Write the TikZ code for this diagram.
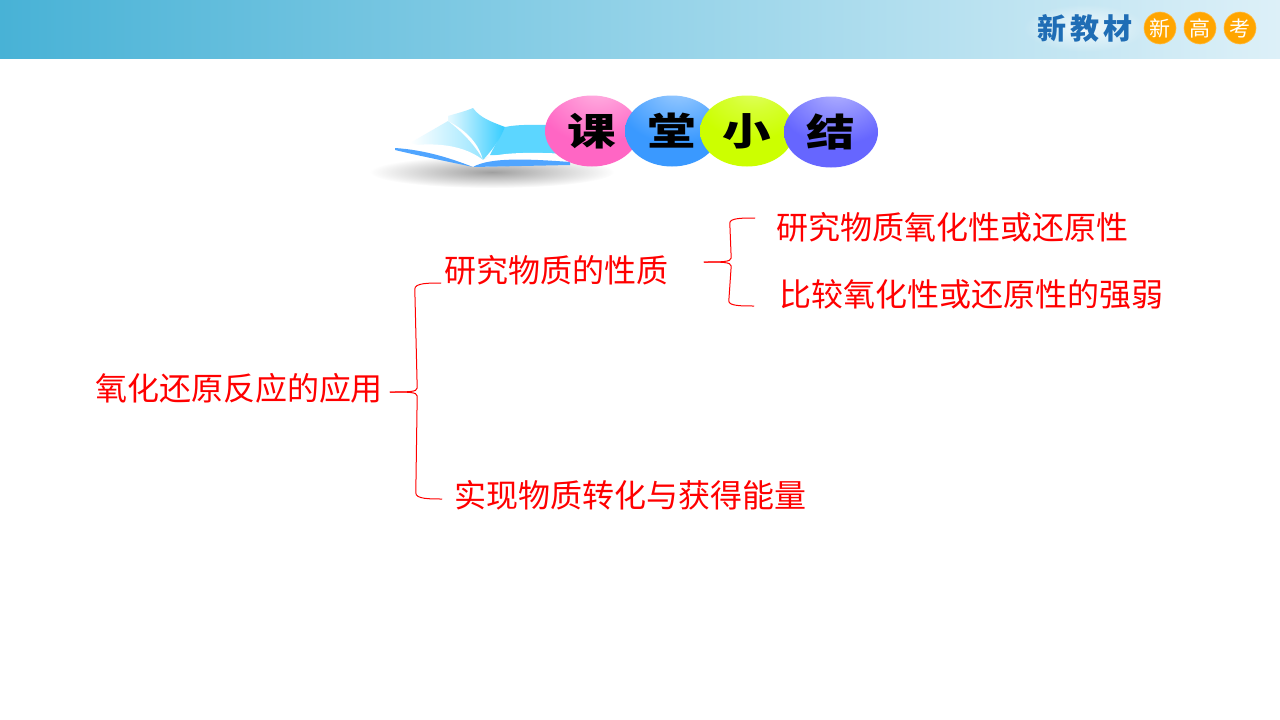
\documentclass[tikz,border=0pt]{standalone}
\usepackage{fontspec}
\usepackage{graphicx}
\setmainfont{Liberation Sans}
\newfontfamily\cjk{Noto Sans CJK SC}
\usetikzlibrary{shapes.geometric,calc,fadings}
\definecolor{bandL}{HTML}{48B2D6}
\definecolor{bandM}{HTML}{93D2E8}
\definecolor{bandR}{HTML}{DDF0F8}
\definecolor{logoBlue}{HTML}{1F6DB5}
\definecolor{logoOr}{HTML}{FFA500}
\definecolor{pinkB}{HTML}{FF66C4}
\definecolor{blueB}{HTML}{3A99FF}
\definecolor{greenB}{HTML}{CCFF00}
\definecolor{purpB}{HTML}{6666FF}
\definecolor{pageB}{HTML}{33CCFF}
\tikzfading[name=softedge,inner color=transparent!25,outer color=transparent!100]
\pgfdeclareradialshading{pinkball}{\pgfpoint{4bp}{34bp}}{color(0bp)=(pinkB!45!white);color(14bp)=(pinkB!70!white);color(32bp)=(pinkB);color(100bp)=(pinkB)}
\pgfdeclareradialshading{blueball}{\pgfpoint{4bp}{34bp}}{color(0bp)=(blueB!45!white);color(14bp)=(blueB!70!white);color(32bp)=(blueB);color(100bp)=(blueB)}
\pgfdeclareradialshading{greenball}{\pgfpoint{4bp}{34bp}}{color(0bp)=(greenB!55!white);color(14bp)=(greenB!80!white);color(30bp)=(greenB);color(100bp)=(greenB)}
\pgfdeclareradialshading{purpball}{\pgfpoint{4bp}{34bp}}{color(0bp)=(purpB!45!white);color(14bp)=(purpB!70!white);color(32bp)=(purpB);color(100bp)=(purpB)}
\newcommand{\widechar}[1]{\scalebox{1.28}[1]{#1}}
\tikzset{
  x=1pt,y=-1pt,
  label text/.style={inner sep=0pt,text=red,font=\cjk\fontsize{32}{32}\selectfont},
  ball/.style={ellipse,inner sep=0pt,minimum width=94pt,minimum height=71pt,text=black,font=\cjk\bfseries\fontsize{38}{38}\selectfont},
  medal/.style={circle,fill=logoOr,draw=logoOr!75!white,line width=.6pt,minimum size=32pt,inner sep=0pt,text=white,font=\cjk\fontsize{21}{21}\selectfont},
  brace line/.style={draw=red,line width=1pt,line cap=round},
}
\begin{document}
\begin{tikzpicture}
\useasboundingbox (0,0) rectangle (1280,720);
\fill[white] (0,0) rectangle (1280,720);
% header band
\shade[left color=bandL,right color=bandM] (0,0) rectangle (640,58);
\shade[left color=bandM,right color=bandR] (640,0) rectangle (1280,58);
% logo
\fill[white,path fading=softedge] (1085,28) ellipse [x radius=62,y radius=24];
\node[inner sep=0pt,text=logoBlue,font=\cjk\bfseries\fontsize{29}{29}\selectfont] (logo) at (1085,28) {新\hspace{4pt}教\hspace{4pt}材};
\node[medal] (m1) at (1160,28) {新};
\node[medal] (m2) at (1200,28) {高};
\node[medal] (m3) at (1240,28) {考};
% book shadow
\fill[black!50,path fading=softedge] (492,172) ellipse [x radius=122,y radius=16];
% book
\shade[left color=white,right color=pageB!50!white]
  (410,143) -- (448,121) .. controls (462,132) and (475,145) .. (483,160) -- cycle;
\fill[pageB!80!white] (505,127) .. controls (520,124) and (535,125) .. (560,125) -- (570,155) -- (490,155) .. controls (495,145) and (500,137) .. (505,127) -- cycle;
\shade[left color=pageB!12!white,right color=pageB]
  (448,116) .. controls (458,113) and (466,111) .. (473,108) .. controls (480,118) and (492,122) .. (505,127)
  .. controls (500,140) and (492,150) .. (483,160)
  .. controls (478,140) and (462,128) .. (448,121) -- cycle;
\fill[white] (395,148) .. controls (425,142) and (460,142) .. (483,160) .. controls (495,152) and (530,152) .. (570,154) -- (570,164) -- (473,167) .. controls (450,158) and (420,152) .. (395,148) -- cycle;
\fill[pageB!70!blue!80!white] (395,148) .. controls (425,150) and (450,158) .. (473,167) .. controls (450,162) and (420,156) .. (395,150) -- cycle;
\fill[pageB!70!blue!80!white] (473,167) .. controls (490,157) and (530,159) .. (570,162) -- (570,165) -- cycle;
% title balls
\node[ball,shading=pinkball] (b1) at (592,131) {\widechar{课}};
\node[ball,shading=blueball] (b2) at (672,131) {\widechar{堂}};
\node[ball,shading=greenball] (b3) at (747,131) {\widechar{小}};
\node[ball,shading=purpball] (b4) at (831,132) {\widechar{结}};
% text
\node[label text] (root) at (239,388) {氧化还原反应的应用};
\node[label text] (a) at (556,270) {研究物质的性质};
\node[label text] (b) at (630,495) {实现物质转化与获得能量};
\node[label text] (a1) at (952,227) {研究物质氧化性或还原性};
\node[label text] (a2) at (971,294) {比较氧化性或还原性的强弱};
% braces
\coordinate (t1) at ($(root.east)+(7,4)$);
\coordinate (u1) at ($(a.west)+(-3,13)$);
\coordinate (v1) at ($(b.west)+(-12,4)$);
\coordinate (t2) at ($(a.east)+(36,-8)$);
\coordinate (u2) at ($(a1.west)+(-21,-9)$);
\coordinate (v2) at ($(a2.west)+(-25,12)$);
\draw[brace line] (t1) .. controls ($(t1)+(18,0)$) and ($(t1)+(27,0)$) .. ($(t1)+(27,-4)$)
  -- ($(u1)+(-26,6)$) .. controls ($(u1)+(-26,0)$) and ($(u1)+(-12,0)$) .. (u1);
\draw[brace line] (t1) .. controls ($(t1)+(18,0)$) and ($(t1)+(27,0)$) .. ($(t1)+(27,4)$)
  -- ($(v1)+(-26,-6)$) .. controls ($(v1)+(-26,0)$) and ($(v1)+(-12,0)$) .. (v1);
\draw[brace line] (t2) .. controls ($(t2)+(17,0)$) and ($(t2)+(27,0)$) .. ($(t2)+(27,-4)$)
  -- ($(u2)+(-25,5)$) .. controls ($(u2)+(-25,0)$) and ($(u2)+(-12,0)$) .. (u2);
\draw[brace line] (t2) .. controls ($(t2)+(17,0)$) and ($(t2)+(27,0)$) .. ($(t2)+(27,4)$)
  -- ($(v2)+(-25,-5)$) .. controls ($(v2)+(-25,0)$) and ($(v2)+(-12,0)$) .. (v2);
\end{tikzpicture}
\end{document}
